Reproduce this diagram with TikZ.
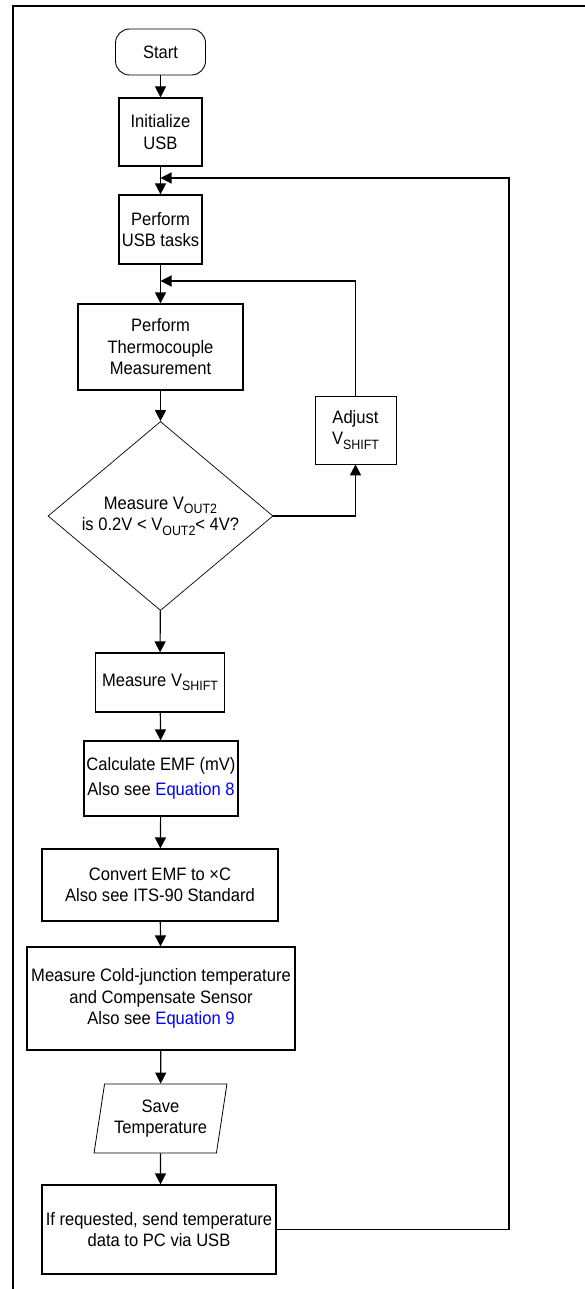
\documentclass[tikz,border=0pt]{standalone}
\usepackage{fontspec}
\setmainfont[FakeStretch=0.92]{Liberation Sans}
\usetikzlibrary{shapes.geometric,arrows.meta}

\newcommand{\lowsub}[1]{\raisebox{-4.5pt}{\fontsize{13.5}{13.5}\selectfont #1}}

\tikzset{
	box/.style={draw, line width=1.2pt, align=center, inner sep=0pt},
	thinbox/.style={draw, line width=0.7pt, align=center, inner sep=0pt},
	arr/.style={line width=1.2pt, -{Triangle[width=11pt,length=11pt]}},
}

\begin{document}
\begin{tikzpicture}[x=1pt, y=-1pt, font=\fontsize{18}{21.5}\selectfont]
	
	\useasboundingbox (0,0) rectangle (585,1289);
	
	% Frame
	\draw[line width=2pt] (13,1289) -- (13,6) -- (585,6);
	
	% Flow boxes
	\node[box, rounded corners=14pt, line width=0.9pt, minimum width=90pt, minimum height=46pt] (start) at (160.5,52) {Start};
	\node[box, minimum width=83pt, minimum height=68pt] (init) at (160.5,132) {Initialize\\USB};
	\node[box, minimum width=83pt, minimum height=69pt] (usb) at (160.5,229.5) {Perform\\USB tasks};
	\node[box, minimum width=165pt, minimum height=86pt] (thermo) at (160.5,347) {Perform\\Thermocouple\\Measurement};
	
	% Decision and adjust
	\node[thinbox, diamond, aspect=1.19, minimum width=225pt, minimum height=189pt] (dec) at (160.5,516) {Measure V\lowsub{OUT2}\\is 0.2V < V\lowsub{OUT2}< 4V?};
	\node[thinbox, minimum width=81pt, minimum height=68pt] (adjust) at (355.5,430) {Adjust\\V\lowsub{SHIFT}};
	
	\node[box, minimum width=129pt, minimum height=59pt] (vshift) at (160,682.5) {Measure V\lowsub{SHIFT}};
	\node[box, minimum width=154pt, minimum height=75pt] (emf) at (161,778.5) {Calculate EMF (mV)\\[3pt]Also see \textcolor{blue}{Equation 8}};
	\node[box, minimum width=236pt, minimum height=72pt] (conv) at (160,885) {Convert EMF to ×C\\Also see ITS-90 Standard};
	\node[box, minimum width=268pt, minimum height=103pt] (cold) at (161,998.5) {Measure Cold-junction temperature\\and Compensate Sensor\\Also see \textcolor{blue}{Equation 9}};
	\node[draw, trapezium, trapezium left angle=77, trapezium right angle=103, trapezium stretches=true, line width=0.8pt, inner sep=0pt, minimum width=133pt, minimum height=69pt, align=center] (save) at (160.5,1118.5) {Save\\Temperature};
	\node[box, minimum width=234pt, minimum height=89pt] (send) at (159,1229.5) {If requested, send temperature\\data to PC via USB};
	
	% Loop points
	\coordinate (outerjoin) at (160.5,178);
	\coordinate (innerjoin) at (160.5,281);
	\coordinate (outerright) at (509,178);
	
	% Connecting arrows
	\draw[arr] (start) -- (init);
	\draw[arr] (init) -- (usb);
	\draw[arr] (usb) -- (thermo);
	\draw[arr] (thermo) -- (dec);
	\draw[arr] (dec) -- (vshift);
	\draw[arr] (vshift) -- (emf);
	\draw[arr] (emf) -- (conv);
	\draw[arr] (conv) -- (cold);
	\draw[arr] (cold) -- (save);
	\draw[arr] (save) -- (save.south |- send.north);
	
	% Loops
	\draw[arr] (dec.east) -| (adjust.south);
	\draw[arr] (adjust.north) |- (innerjoin);
	\draw[arr] (send.east) -| (outerright) -- (outerjoin);
	
\end{tikzpicture}
\end{document}
